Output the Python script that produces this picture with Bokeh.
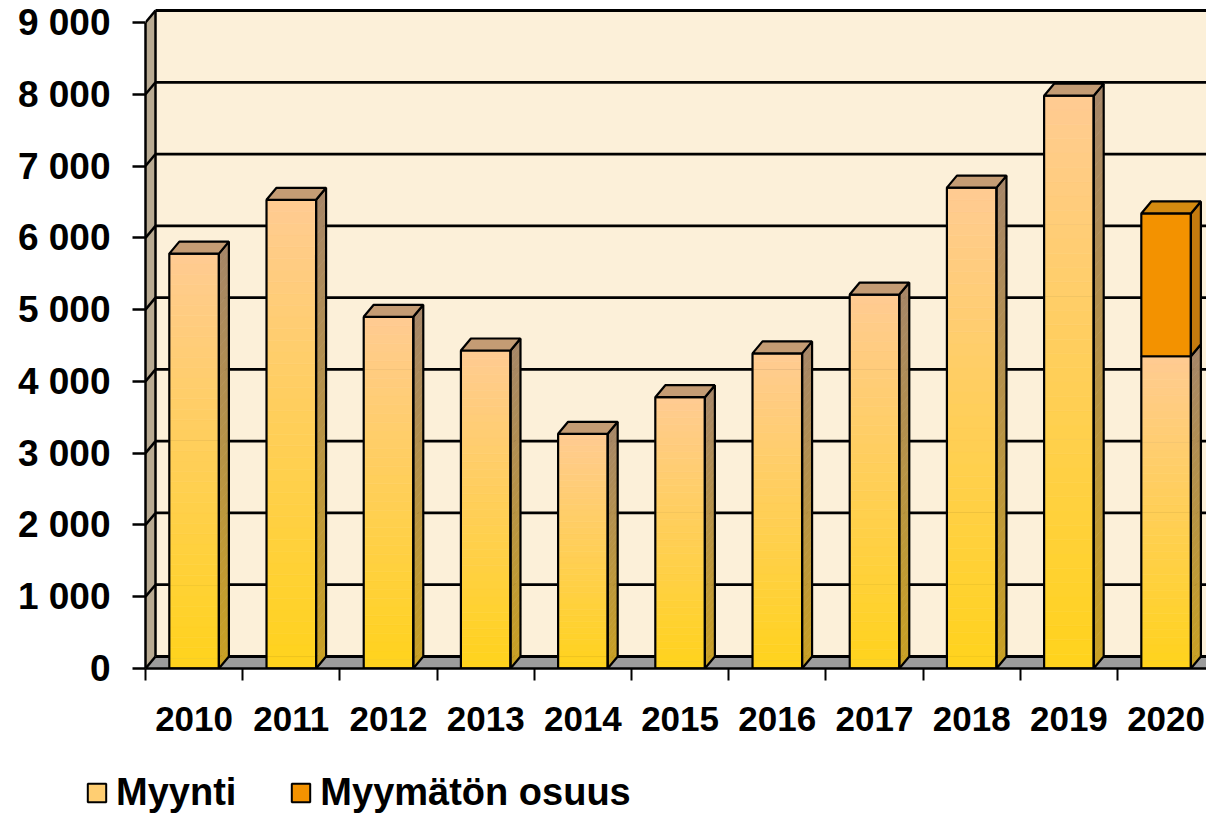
import numpy as np
from bokeh.plotting import figure
from bokeh.layouts import column
from bokeh.models import ColumnDataSource, FixedTicker, Range1d, Legend, LegendItem
from bokeh.embed import file_html
from bokeh.resources import INLINE

# ---- data ----
years = ["2010", "2011", "2012", "2013", "2014", "2015", "2016", "2017", "2018", "2019", "2020"]
myynti = [5780, 6530, 4900, 4430, 3270, 3780, 4390, 5210, 6700, 7980, 4350]
myymaton = [0, 0, 0, 0, 0, 0, 0, 0, 0, 0, 1990]
y_ticks = [0, 1000, 2000, 3000, 4000, 5000, 6000, 7000, 8000, 9000]
y_tick_labels = ["0", "1 000", "2 000", "3 000", "4 000", "5 000", "6 000", "7 000", "8 000", "9 000"]
series_names = ["Myynti", "Myymätön osuus"]

# ---- geometry / style ----
W = 1206
H1, H2 = 760, 53
LEFT, TOP, BOTTOM = 145, 8, 92
CAT_PX = 97.2
frame_w = W - LEFT
frame_h = H1 - TOP - BOTTOM
x_end = frame_w / CAT_PX
y_end = frame_h / (646.0 / 9000.0)
DX = 10.0 / CAT_PX
DY = 12.0 * y_end / frame_h
HALF = 0.255
FONT = "Liberation Sans"

p = figure(width=W, height=H1, x_range=Range1d(0, x_end), y_range=Range1d(0, y_end),
           output_backend="svg", toolbar_location=None,
           min_border_left=LEFT, min_border_right=0, min_border_top=TOP,
           min_border_bottom=BOTTOM)
p.frame_align = False
p.xgrid.visible = False
p.ygrid.visible = False
p.outline_line_color = None
p.background_fill_color = "white"
p.border_fill_color = "white"

ymax = y_ticks[-1]
BIG = x_end + 1

# walls and floor
p.quad(left=[DX], right=[BIG], bottom=[DY], top=[ymax + DY], fill_color="#FCF0D9", line_color=None)
p.patch([0, DX, DX, 0], [0, DY, ymax + DY, ymax], fill_color="#B8AA92", line_color=None)
p.patch([0, DX, BIG, BIG], [0, DY, DY, 0], fill_color="#9C9C9C", line_color=None)

# gridlines on the walls
p.segment(x0=[DX] * len(y_ticks), y0=[t + DY for t in y_ticks], x1=[BIG] * len(y_ticks),
          y1=[t + DY for t in y_ticks], line_color="black", line_width=2.8)
p.segment(x0=[0] * len(y_ticks), y0=y_ticks, x1=[DX] * len(y_ticks),
          y1=[t + DY for t in y_ticks], line_color="black", line_width=2.5)
p.segment(x0=[DX], y0=[DY], x1=[DX], y1=[ymax + DY], line_color="black", line_width=2.5)


def lerp(c0, c1, t):
    return "#%02x%02x%02x" % tuple(int(round(a + (b - a) * t)) for a, b in zip(c0, c1))


FRONT_BOT, FRONT_TOP = (255, 211, 28), (255, 203, 146)
SIDE_BOT, SIDE_TOP = (200, 160, 36), (166, 134, 104)
N = 40

fl, fr, fb, ft, fc = [], [], [], [], []
sxs, sys_, sc = [], [], []
for i, v in enumerate(myynti):
    c = i + 0.5
    l, r = c - HALF, c + HALF
    for k in range(N):
        y0, y1 = v * k / N, v * (k + 1) / N
        t = (k + 0.5) / N
        fl.append(l); fr.append(r); fb.append(y0); ft.append(y1)
        fc.append(lerp(FRONT_BOT, FRONT_TOP, t))
        sxs.append([r, r + DX, r + DX, r])
        sys_.append([y0, y0 + DY, y1 + DY, y1])
        sc.append(lerp(SIDE_BOT, SIDE_TOP, t))

p.quad(source=ColumnDataSource(dict(left=fl, right=fr, bottom=fb, top=ft, color=fc)),
       left="left", right="right", bottom="bottom", top="top",
       fill_color="color", line_color="color", line_width=0.6)
p.patches(source=ColumnDataSource(dict(xs=sxs, ys=sys_, color=sc)), xs="xs", ys="ys",
          fill_color="color", line_color="color", line_width=0.6)

# outlines of Myynti bars
centers = [i + 0.5 for i in range(len(years))]
p.quad(left=[c - HALF for c in centers], right=[c + HALF for c in centers], bottom=0, top=myynti,
       fill_color=None, line_color="black", line_width=2.2)
p.patches(xs=[[c + HALF, c + HALF + DX, c + HALF + DX, c + HALF] for c in centers],
          ys=[[0, DY, v + DY, v] for v in myynti], fill_color=None, line_color="black", line_width=2.2)

# unsold part
tot = [a + b for a, b in zip(myynti, myymaton)]
idx = [i for i, b in enumerate(myymaton) if b > 0]
p.quad(left=[centers[i] - HALF for i in idx], right=[centers[i] + HALF for i in idx],
       bottom=[myynti[i] for i in idx], top=[tot[i] for i in idx],
       fill_color="#F39200", line_color="black", line_width=2.2)
p.patches(xs=[[centers[i] + HALF, centers[i] + HALF + DX, centers[i] + HALF + DX, centers[i] + HALF] for i in idx],
          ys=[[myynti[i], myynti[i] + DY, tot[i] + DY, tot[i]] for i in idx],
          fill_color="#C47A0E", line_color="black", line_width=2.2)

# top faces
top_col = ["#D48A10" if b > 0 else "#C49C74" for b in myymaton]
p.patches(xs=[[c - HALF, c - HALF + DX, c + HALF + DX, c + HALF] for c in centers],
          ys=[[v, v + DY, v + DY, v] for v in tot], fill_color=top_col, line_color="black", line_width=2.2)

# axes
ya = p.yaxis[0]
ya.ticker = FixedTicker(ticks=y_ticks)
ya.major_label_overrides = {t: s for t, s in zip(y_ticks, y_tick_labels)}
ya.bounds = (0, ymax)
ya.major_tick_out = 13
ya.major_tick_in = 0
ya.minor_tick_out = 0
ya.minor_tick_in = 0
ya.major_tick_line_width = 2.5
ya.axis_line_width = 2.5
ya.major_label_standoff = 22
ya.major_label_text_font = FONT
ya.major_label_text_font_style = "bold"
ya.major_label_text_font_size = "37px"
ya.major_label_text_color = "black"

xa = p.xaxis[0]
xa.ticker = FixedTicker(ticks=centers, minor_ticks=list(range(len(years) + 1)))
xa.major_label_overrides = {c: y for c, y in zip(centers, years)}
xa.major_tick_out = 0
xa.major_tick_in = 0
xa.minor_tick_out = 12
xa.minor_tick_in = 0
xa.minor_tick_line_width = 2
xa.axis_line_width = 2.5
xa.major_label_standoff = 26
xa.major_label_text_font = FONT
xa.major_label_text_font_style = "bold"
xa.major_label_text_font_size = "35px"
xa.major_label_text_color = "black"

# legend in its own strip below the chart
q = figure(width=W, height=H2, x_range=Range1d(0, W), y_range=Range1d(0, H2),
           output_backend="svg", toolbar_location=None, x_axis_type=None, y_axis_type=None,
           min_border_left=0, min_border_right=0, min_border_top=0, min_border_bottom=0)
q.frame_align = False
q.grid.visible = False
q.outline_line_color = None
q.background_fill_color = "white"
q.border_fill_color = "white"
off = dict(left=[-20], right=[-10], bottom=[-20], top=[-10])
r1 = q.quad(source=ColumnDataSource(off), left="left", right="right", bottom="bottom", top="top",
            fill_color="#FFCE72", line_color="black", line_width=2)
r2 = q.quad(source=ColumnDataSource(off), left="left", right="right", bottom="bottom", top="top",
            fill_color="#F39200", line_color="black", line_width=2)
legend = Legend(items=[LegendItem(label=series_names[0], renderers=[r1]),
                       LegendItem(label=series_names[1], renderers=[r2])],
                location=(85, -1), orientation="horizontal",
                label_text_font=FONT, label_text_font_style="bold", label_text_font_size="38px",
                label_text_color="black",
                glyph_width=23, glyph_height=23, label_standoff=8, spacing=53,
                padding=0, margin=0, border_line_color=None, background_fill_alpha=0)
q.add_layout(legend)

layout = column(p, q, spacing=0)
open("out.html", "w").write(file_html(layout, INLINE))
